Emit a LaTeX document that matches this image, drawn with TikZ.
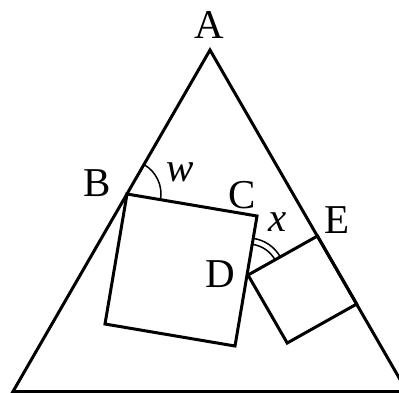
\documentclass[tikz,border=0pt]{standalone}
\usepackage{fontspec}
\setmainfont{Liberation Serif}
\usetikzlibrary{angles}
\tikzset{
  edge line/.style  = {line width=1.5pt, line join=miter},
  angle mark/.style = {draw, line width=0.75pt},
  pt label/.style   = {font=\fontsize{20.5}{24}\selectfont, inner sep=0pt},
}

\begin{document}
\begin{tikzpicture}[x=0.5pt, y=0.5pt]
  \useasboundingbox (0,0) rectangle (399,392);
  \clip (0,0) rectangle (399,392);

  % triangle
  \coordinate (A) at (210,342);
  \coordinate (L) at (13,0.5);
  \coordinate (R) at (407,0.5);
  % big square
  \coordinate (B)  at (127,198);
  \coordinate (C)  at (257,176);
  \coordinate (S3) at (235,46);
  \coordinate (S4) at (105,68);
  % small square
  \coordinate (D)  at (248,117);
  \coordinate (E)  at (317.5,156);
  \coordinate (F)  at (356.7,88);
  \coordinate (G)  at (287.2,49);

  \draw[edge line] (L) -- (A) -- (R) -- cycle;
  \draw[edge line] (B) -- (C) -- (S3) -- (S4) -- cycle;
  \draw[edge line] (D) -- (E) -- (F) -- (G) -- cycle;

  \pic[angle mark, angle radius=17pt] {angle = C--B--A};
  \pic[angle mark, angle radius=15.5pt] {angle = E--D--C};
  \pic[angle mark, angle radius=18.5pt] {angle = E--D--C};

  \node[pt label] (labA) at (209,367) {A};
  \node[pt label] (labB) at (97,209)  {B};
  \node[pt label] (labC) at (242,197) {C};
  \node[pt label] (labD) at (220,118) {D};
  \node[pt label] (labE) at (337,172) {E};
  \node[pt label] (labw) at (180,220) {\textit{w}};
  \node[pt label] (labx) at (278,170) {\textit{x}};
\end{tikzpicture}
\end{document}
